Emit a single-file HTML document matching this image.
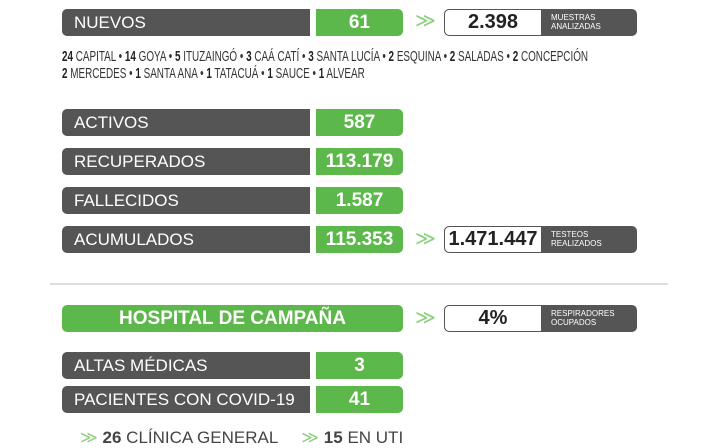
<!DOCTYPE html>
<html><head><meta charset="utf-8"><style>
*{margin:0;padding:0;box-sizing:border-box}
body{width:720px;height:445px;background:#fff;position:relative;overflow:hidden;font-family:"Liberation Sans",sans-serif}
.d{position:absolute;left:62px;width:248px;height:27px;background:#555;border-radius:5px 0 0 5px;color:#fff;font-size:17px;line-height:27px;padding-left:12px}
.g{position:absolute;left:316px;width:87px;height:27px;background:#5cb84a;border-radius:0 5px 5px 0;color:#fff;font-size:19px;font-weight:bold;line-height:27px;text-align:center}
.ar{position:absolute;left:415px;color:#8fd080;font-size:20px;line-height:27px}
.bx{position:absolute;left:444px;width:193px;height:27px;border:1.5px solid #555;border-radius:5px;background:#555;overflow:hidden}
.bx .w{position:absolute;left:0;top:0;width:96px;height:100%;background:#fff;border-radius:4px 0 0 4px;color:#222;font-weight:bold;font-size:20px;text-align:center;line-height:24px}
.bx .l{position:absolute;left:106px;top:3px;color:#fff;font-size:8px;line-height:9px}
.t{position:absolute;left:62px;font-size:15px;color:#333;transform:scaleX(.66);transform-origin:left;white-space:nowrap}
.t b{color:#222}
</style></head><body>
<div class="d" style="top:9px">NUEVOS</div><div class="g" style="top:9px">61</div>
<div class="ar" style="top:8px">≫</div>
<div class="bx" style="top:9px"><div class="w">2.398</div><div class="l">MUESTRAS<br>ANALIZADAS</div></div>
<div class="t" style="top:48px"><b>24</b> CAPITAL • <b>14</b> GOYA • <b>5</b> ITUZAINGÓ • <b>3</b> CAÁ CATÍ • <b>3</b> SANTA LUCÍA • <b>2</b> ESQUINA • <b>2</b> SALADAS • <b>2</b> CONCEPCIÓN</div>
<div class="t" style="top:65px"><b>2</b> MERCEDES • <b>1</b> SANTA ANA • <b>1</b> TATACUÁ • <b>1</b> SAUCE • <b>1</b> ALVEAR</div>
<div class="d" style="top:109px">ACTIVOS</div><div class="g" style="top:109px">587</div>
<div class="d" style="top:148px">RECUPERADOS</div><div class="g" style="top:148px">113.179</div>
<div class="d" style="top:187px">FALLECIDOS</div><div class="g" style="top:187px">1.587</div>
<div class="d" style="top:226px">ACUMULADOS</div><div class="g" style="top:226px">115.353</div>
<div class="ar" style="top:226px">≫</div>
<div class="bx" style="top:226px"><div class="w">1.471.447</div><div class="l">TESTEOS<br>REALIZADOS</div></div>
<div style="position:absolute;left:50px;top:283px;width:618px;height:2px;background:#ddd"></div>
<div class="g" style="top:305px;left:62px;width:341px;border-radius:5px">HOSPITAL DE CAMPAÑA</div>
<div class="ar" style="top:305px">≫</div>
<div class="bx" style="top:305px"><div class="w">4%</div><div class="l">RESPIRADORES<br>OCUPADOS</div></div>
<div class="d" style="top:352px">ALTAS MÉDICAS</div><div class="g" style="top:352px">3</div>
<div class="d" style="top:386px">PACIENTES CON COVID-19</div><div class="g" style="top:386px">41</div>
<div style="position:absolute;left:80px;top:428px;font-size:17px;color:#444;white-space:nowrap"><span style="color:#8fd080">≫</span> <b>26</b> CLÍNICA GENERAL &nbsp;&nbsp;&nbsp;&nbsp;<span style="color:#8fd080">≫</span> <b>15</b> EN UTI</div>
</body></html>
